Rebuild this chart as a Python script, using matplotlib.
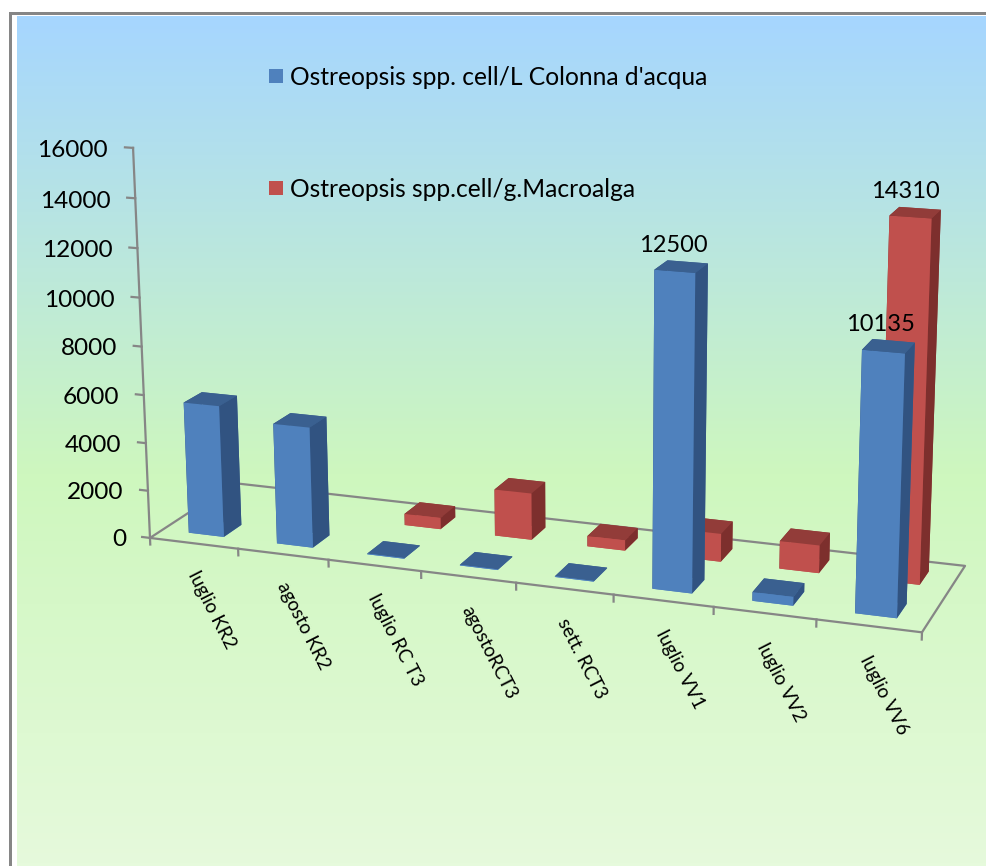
import numpy as np
import matplotlib
matplotlib.use("Agg")
import matplotlib.pyplot as plt
from matplotlib.colors import LinearSegmentedColormap
from matplotlib.patches import Rectangle
from mpl_toolkits.mplot3d import Axes3D, proj3d  # noqa: F401

plt.rcParams['font.family'] = ['Lato', 'DejaVu Sans']

# ---------- data ----------
categories = ['luglio KR2', 'agosto KR2', 'luglio RC T3', 'agostoRCT3', 'sett. RCT3',
              'luglio VV1', 'luglio VV2', 'luglio VV6']
series_water = 'Ostreopsis spp. cell/L Colonna d\'acqua'
series_alga = 'Ostreopsis spp.cell/g.Macroalga'
water_values = [5500, 5000, 30, 30, 30, 12500, 350, 10135]
alga_values = [None, None, 480, 1950, 430, 1150, 1130, 14310]
labelled_water = {5: '12500', 7: '10135'}
labelled_alga = {7: '14310'}
z_ticks = [0, 2000, 4000, 6000, 8000, 10000, 12000, 14000, 16000]

# ---------- figure + background ----------
W, H = 987, 866
fig = plt.figure(figsize=(W / 100, H / 100), dpi=100)
bg = fig.add_axes([0, 0, 1, 1])
bg.set_xlim(0, W)
bg.set_ylim(H, 0)
bg.axis('off')
cmap = LinearSegmentedColormap.from_list('bg', [(0, '#A6D6FF'), (0.54, '#CEF7BE'), (1, '#E6FADC')])
bg.imshow(np.linspace(0, 1, 256)[:, None], cmap=cmap, aspect='auto', extent=(17, W, H, 16), zorder=1)
bg.set_xlim(0, W)
bg.set_ylim(H, 0)
bg.add_patch(Rectangle((9, 12), W, 3, color='#868686', lw=0, zorder=2))
bg.add_patch(Rectangle((9, 12), 3, H, color='#868686', lw=0, zorder=2))

BLUE = ['#4F81BD', '#3A6090', '#4F81BD', '#3A6090', '#315381', '#315381']
RED = ['#C0504D', '#923C39', '#C0504D', '#923C39', '#7D2F2D', '#7D2F2D']

bg.add_patch(Rectangle((269, 69), 14, 14, color=BLUE[0], lw=0, zorder=3))
bg.text(290, 77.5, series_water, fontsize=17.7, va='center', ha='left', color='black', zorder=3)
bg.add_patch(Rectangle((269, 181), 14, 14, color=RED[0], lw=0, zorder=3))
bg.text(290, 189.5, series_alga, fontsize=17.7, va='center', ha='left', color='black', zorder=3)

# ---------- 3D axes with a camera calibrated on the chart frame ----------
ax = fig.add_subplot(projection='3d', computed_zorder=False)
ax.set_position([0, (H - W) / 2 / H, 1, W / H])
ax.patch.set_alpha(0)
ax.set_axis_off()
ax.apply_aspect()

n = len(categories)
Ztop = z_ticks[-1]
frame_world = [(0, 0, 0), (1, 0, 0), (2, 0, 0), (3, 0, 0), (4, 0, 0), (5, 0, 0), (6, 0, 0), (7, 0, 0), (8, 0, 0),
               (8, 2, 0), (0, 2, 0),
               (0, 0, 2000), (0, 0, 4000), (0, 0, 6000), (0, 0, 8000), (0, 0, 10000),
               (0, 0, 12000), (0, 0, 14000), (0, 0, 16000)]
frame_pixels = [(150, 538), (238, 549), (328, 560), (420, 571), (517, 583), (614, 595), (714, 607), (816, 619), (922, 632),
                (965, 566), (234, 483),
                (148, 490), (146, 443), (144, 395), (142, 347), (140, 298),
                (137, 248), (135, 198), (133, 148)]
fw = np.array(frame_world, float) / np.array([n, 2, Ztop])
fp = np.array(frame_pixels, float)
uv = ax.transData.inverted().transform(np.c_[fp[:, 0], H - fp[:, 1]])
s = 1 / np.abs(uv).max()
uv = uv * s
A, b = [], []
for (X, Y, Z), (u, v) in zip(fw, uv):
    A.append([X, Y, Z, 1, 0, 0, 0, 0, -u * X, -u * Y, -u * Z]); b.append(u)
    A.append([0, 0, 0, 0, X, Y, Z, 1, -v * X, -v * Y, -v * Z]); b.append(v)
h = np.linalg.lstsq(np.array(A), np.array(b), rcond=None)[0]
scale = np.array([1 / n, 1 / 2, 1 / Ztop, 1])
M = np.array([
    np.r_[h[0:4]] * scale / s,
    np.r_[h[4:8]] * scale / s,
    [0, 0, 0, -1],
    np.r_[h[8:11], 1] * scale,
])
ax.get_proj = lambda: M


def label3d(x, y, z, txt, **kw):
    """Place a 2D text at the projected position of a 3D point."""
    u, v, _ = proj3d.proj_transform(x, y, z, M)
    return ax.text2D(u, v, txt, transform=ax.transData, color='black', **kw)


# ---------- chart frame ----------
LINE = '#868686'
lw = 1.6
ax.plot([0, n, n, 0, 0], [0, 0, 2, 2, 0], [0, 0, 0, 0, 0], color=LINE, lw=lw, zorder=1)
ax.plot([0, 0], [0, 0], [0, Ztop], color=LINE, lw=lw, zorder=1)
for z in z_ticks:
    ax.plot([-0.09, 0], [0, 0], [z, z], color=LINE, lw=lw, zorder=1)
    label3d(-0.28, 0, z - 190, str(z), ha='right', va='center', fontsize=17.6, zorder=6)
for k in range(n + 1):
    ax.plot([k, k], [0, 0], [0, -280], color=LINE, lw=lw, zorder=1)
for k, lab in enumerate(categories):
    label3d(k + 0.47, 0, -1250, lab, rotation=-63, rotation_mode='anchor', ha='left', va='center',
            fontsize=13.6, zorder=6)

# ---------- bars ----------
bar_x, bar_w = 0.30, 0.40
row_y, bar_d = 0.29, 0.42
for k, v in enumerate(alga_values):
    if v is not None:
        ax.bar3d(k + bar_x, 1 + row_y, 0, bar_w, bar_d, v, color=RED, shade=False, edgecolor='none', zorder=2)
for k, v in enumerate(water_values):
    if v is not None:
        ax.bar3d(k + bar_x, row_y, 0, bar_w, bar_d, v, color=BLUE, shade=False, edgecolor='none', zorder=3)

for k, t in labelled_water.items():
    label3d(k + 0.42, row_y + bar_d / 2, water_values[k] + 790, t, ha='center', va='center', fontsize=17, zorder=7)
for k, t in labelled_alga.items():
    label3d(k + 0.40, 1 + row_y + bar_d / 2, alga_values[k] + 780, t, ha='center', va='center', fontsize=17, zorder=7)

fig.savefig('out.png', dpi=100)
